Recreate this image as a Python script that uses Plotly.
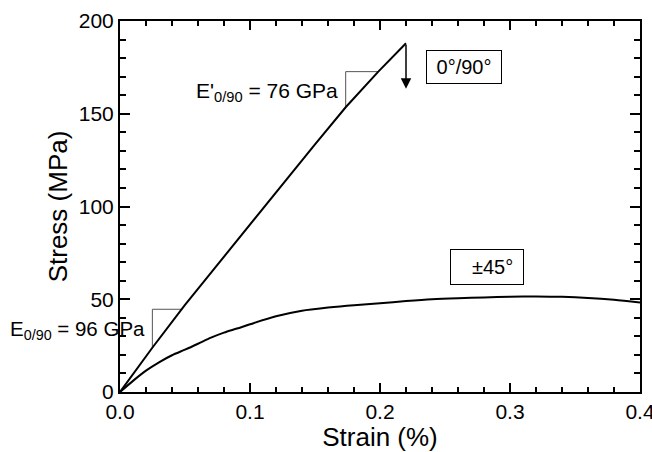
import plotly.graph_objects as go

# Data
strain_090 = [0.0, 0.025, 0.05, 0.0654, 0.1, 0.15, 0.1736, 0.1987, 0.22]
stress_090 = [0.0, 24.0, 47.0, 60.4, 90.5, 133.5, 153.5, 172.7, 188.0]

strain_45 = [0.0, 0.01, 0.02, 0.03, 0.04, 0.05, 0.06, 0.07, 0.08, 0.09, 0.10,
             0.12, 0.14, 0.16, 0.18, 0.20, 0.22, 0.24, 0.26, 0.28, 0.30,
             0.32, 0.34, 0.36, 0.38, 0.40]
stress_45 = [0.0, 6.0, 11.5, 16.0, 19.8, 22.8, 26.0, 29.3, 32.0, 34.2, 36.5,
             40.8, 43.8, 45.5, 46.8, 47.8, 49.0, 50.0, 50.6, 51.0, 51.4,
             51.5, 51.3, 50.7, 49.7, 48.3]

# slope triangles (strain, stress)
tri_low_x = [0.0249, 0.0249, 0.047]
tri_low_y = [24.0, 44.6, 44.6]
tri_up_x = [0.1736, 0.1736, 0.1987]
tri_up_y = [153.5, 172.7, 172.7]

font = "Liberation Sans, Arial, Helvetica, sans-serif"

fig = go.Figure()
fig.add_trace(go.Scatter(x=tri_low_x, y=tri_low_y, mode="lines",
                         line=dict(color="#555555", width=1), showlegend=False))
fig.add_trace(go.Scatter(x=tri_up_x, y=tri_up_y, mode="lines",
                         line=dict(color="#555555", width=1), showlegend=False))
fig.add_trace(go.Scatter(x=strain_090, y=stress_090, mode="lines",
                         line=dict(color="black", width=2), showlegend=False))
fig.add_trace(go.Scatter(x=strain_45, y=stress_45, mode="lines",
                         line=dict(color="black", width=2, shape="spline",
                                   smoothing=0.8),
                         showlegend=False))

# unloading arrow
fig.add_annotation(x=0.22, y=163.5, ax=0.22, ay=188, xref="x", yref="y",
                   axref="x", ayref="y", showarrow=True, arrowhead=2,
                   arrowsize=1.4, arrowwidth=1.5, arrowcolor="black", text="")

fig.add_annotation(x=0.169, y=161.5, xref="x", yref="y", xanchor="right",
                   yanchor="middle", showarrow=False,
                   text="E'<sub>0/90</sub> = 76 GPa",
                   font=dict(family=font, size=21, color="black"))
fig.add_annotation(x=0.0205, y=33.5, xref="x", yref="y", xanchor="right",
                   yanchor="middle", showarrow=False,
                   text="E<sub>0/90</sub> = 96 GPa",
                   font=dict(family=font, size=20.5, color="black"))

fig.add_annotation(x=0.2646, y=175.2, xref="x", yref="y", showarrow=False,
                   text="0°/90°", font=dict(family=font, size=20, color="black"),
                   bordercolor="black", borderwidth=1, borderpad=4,
                   width=66, height=24, bgcolor="white")
fig.add_annotation(x=0.2823, y=67.6, xref="x", yref="y", showarrow=False,
                   text="  ±45°", font=dict(family=font, size=20, color="black"),
                   bordercolor="black", borderwidth=1, borderpad=4,
                   width=64, height=26, bgcolor="white")

axis_common = dict(showline=True, linecolor="black", linewidth=2,
                   mirror="ticks", ticks="inside", tickcolor="black",
                   tickwidth=2, showgrid=False, zeroline=False,
                   automargin=False, ticklabeloverflow="allow",
                   tickfont=dict(family=font, size=21, color="black"))

fig.update_xaxes(range=[0, 0.4], tickvals=[0, 0.1, 0.2, 0.3, 0.4],
                 ticktext=["0.0", "0.1", "0.2", "0.3", "0.4"], ticklen=9,
                 minor=dict(ticks="inside", dtick=0.02, ticklen=5,
                            tickwidth=1.5, tickcolor="black", showgrid=False),
                 title=dict(text="Strain (%)", standoff=2,
                            font=dict(family=font, size=26, color="black")),
                 **axis_common)
fig.update_yaxes(range=[0, 200], tickvals=[0, 50, 100, 150, 200], ticklen=10,
                 minor=dict(ticks="inside", dtick=10, ticklen=6,
                            tickwidth=1.5, tickcolor="black", showgrid=False),
                 title=dict(text="Stress (MPa)", standoff=4,
                            font=dict(family=font, size=26, color="black")),
                 **axis_common)

fig.update_layout(width=652, height=452, plot_bgcolor="white",
                  paper_bgcolor="white",
                  margin=dict(l=120, r=12, t=21, b=60),
                  showlegend=False)

# remove the page's default 8px body margin so the figure fills the window
fig.write_html("out.html",
               config={"displayModeBar": False},
               post_script="document.body.style.margin='0';"
                           "document.body.style.overflow='hidden';")
